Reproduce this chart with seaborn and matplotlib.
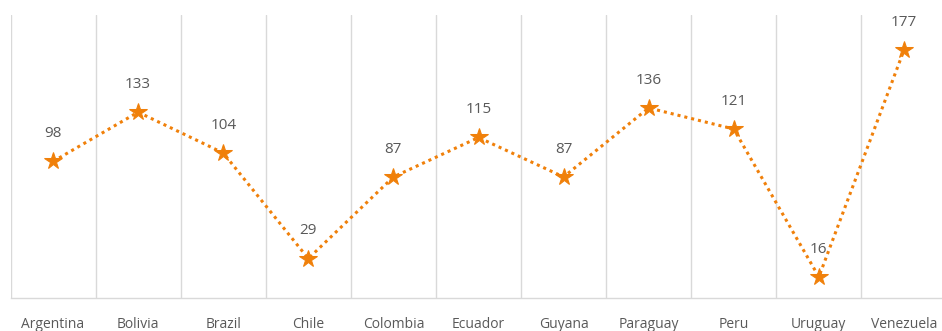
import matplotlib
matplotlib.use("Agg")
import matplotlib.pyplot as plt
import seaborn as sns
import pandas as pd
import numpy as np

countries = ["Argentina", "Bolivia", "Brazil", "Chile", "Colombia", "Ecuador",
             "Guyana", "Paraguay", "Peru", "Uruguay", "Venezuela"]
values = [98, 133, 104, 29, 87, 115, 87, 136, 121, 16, 177]

sns.set_theme(style="white")
plt.rcParams['font.family'] = ['Open Sans', 'DejaVu Sans']

df = pd.DataFrame({"country": countries, "value": values})

fig = plt.figure(figsize=(9.42, 3.31), dpi=100)
ax = fig.add_axes([10.5/942, 1-298/331, 936/942, (298-15)/331])

orange = "#F0800A"
sns.lineplot(data=df, x="country", y="value", ax=ax, color=orange,
             linestyle=(0, (1, 1.3)), linewidth=2.2, marker="*",
             markersize=13, markeredgecolor=orange, markerfacecolor=orange)

n = len(countries)
ax.set_xlim(-0.5, n - 0.5)
ax.set_ylim(1, 202)
ax.set_xticks(range(n))
ax.set_xticklabels(countries, fontsize=10, color="#595959")
ax.set_xticks(np.arange(-0.5, n, 1.0), minor=True)
ax.grid(False)
ax.grid(True, which="minor", axis="x", color="#D9D9D9", linewidth=1)
ax.tick_params(axis="x", which="both", length=0, pad=14)
ax.set_yticks([])
ax.set_xlabel("")
ax.set_ylabel("")
for s in ["top", "right", "left"]:
    ax.spines[s].set_visible(False)
ax.spines["bottom"].set_color("#D9D9D9")
ax.spines["bottom"].set_linewidth(1)

for i, v in enumerate(values):
    ax.annotate(str(v), (i, v), xytext=(0, 20), textcoords="offset points",
                ha="center", va="center", fontsize=11, color="#595959")

fig.savefig("out.png", dpi=100)
